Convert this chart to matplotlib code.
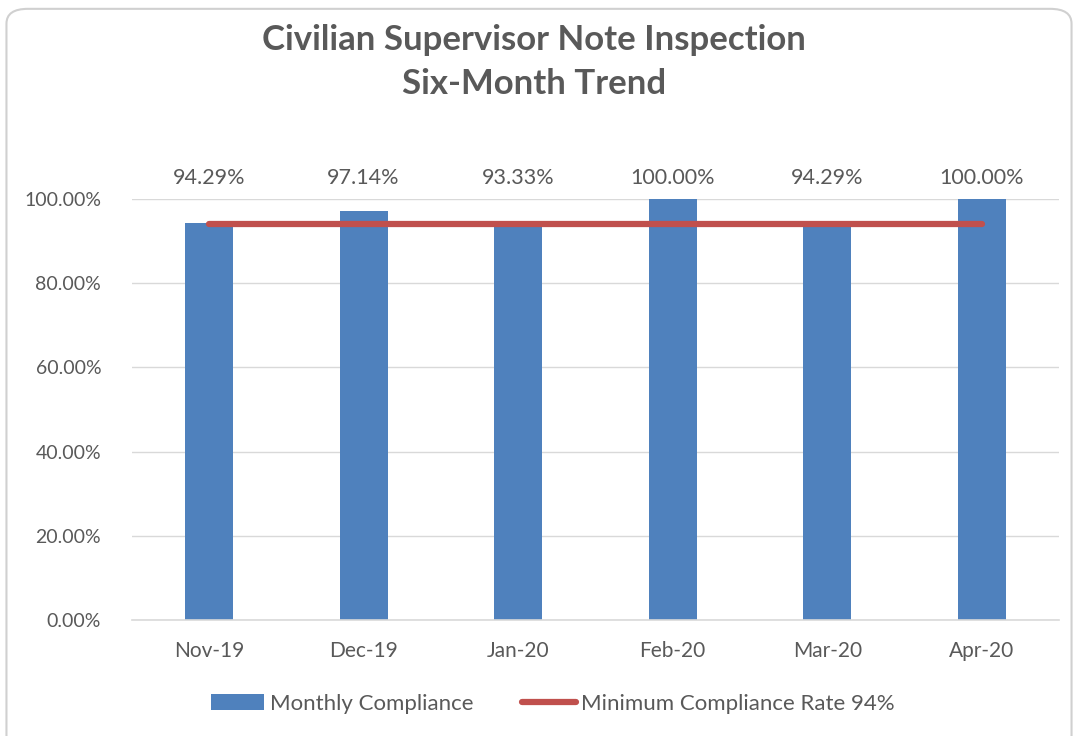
import matplotlib
matplotlib.use("Agg")
import matplotlib.pyplot as plt
from matplotlib.patches import FancyBboxPatch, Patch
from matplotlib.lines import Line2D
from matplotlib.ticker import FuncFormatter

months = ["Nov-19", "Dec-19", "Jan-20", "Feb-20", "Mar-20", "Apr-20"]
compliance = [94.29, 97.14, 93.33, 100.00, 94.29, 100.00]
minimum_rate = [94, 94, 94, 94, 94, 94]

BLUE = "#4F81BD"
RED = "#C0504D"
GRAY = "#595959"

plt.rcParams['font.family'] = ['Lato', 'DejaVu Sans']

fig = plt.figure(figsize=(10.78, 7.36), dpi=100)

# rounded chart border
border = FancyBboxPatch((0.006, -0.02), 0.988, 1.008,
                        boxstyle="round,pad=0,rounding_size=0.02",
                        transform=fig.transFigure, fill=False,
                        edgecolor="#D0D0D0", linewidth=1.5)
fig.patches.append(border)

ax = fig.add_axes([0.1222, 0.1576, 0.8602, 0.572])
x = range(len(months))
bars = ax.bar(x, compliance, width=0.31, color=BLUE, zorder=2)
line, = ax.plot(x, minimum_rate, color=RED, linewidth=4.5,
                solid_capstyle="round", zorder=3)

ax.set_xlim(-0.5, len(months) - 0.5)
ax.set_ylim(0, 100)
ax.set_yticks([0, 20, 40, 60, 80, 100])
ax.yaxis.set_major_formatter(FuncFormatter(lambda v, p: f"{v:.2f}%"))
ax.set_xticks(list(x))
ax.set_xticklabels(months)
ax.grid(axis="y", color="#D9D9D9", linewidth=1, zorder=0)
ax.set_axisbelow(True)
for s in ["top", "right", "left"]:
    ax.spines[s].set_visible(False)
ax.spines["bottom"].set_color("#D9D9D9")
ax.spines["bottom"].set_linewidth(1.2)
ax.tick_params(length=0, colors=GRAY)
ax.tick_params(axis="y", labelsize=14, pad=22)
ax.tick_params(axis="x", labelsize=15, pad=15)

for i, v in enumerate(compliance):
    ax.text(i, 1.05, f"{v:.2f}%", transform=ax.get_xaxis_transform(),
            ha="center", va="center", fontsize=15.5, color=GRAY)

fig.text(0.495, 0.916, "Civilian Supervisor Note Inspection\nSix-Month Trend",
         ha="center", va="center", fontsize=25, fontweight="bold",
         color=GRAY, linespacing=1.45)

handles = [Patch(facecolor=BLUE),
           Line2D([0], [0], color=RED, linewidth=4.5, solid_capstyle="round")]
labels = ["Monthly Compliance", "Minimum Compliance Rate 94%"]
leg = fig.legend(handles, labels, loc="center", bbox_to_anchor=(0.513, 0.044),
                 ncol=2, frameon=False, fontsize=16, handlelength=2.4,
                 handletextpad=0.25, columnspacing=2.2)
for t in leg.get_texts():
    t.set_color(GRAY)

fig.savefig("out.png", dpi=100)
